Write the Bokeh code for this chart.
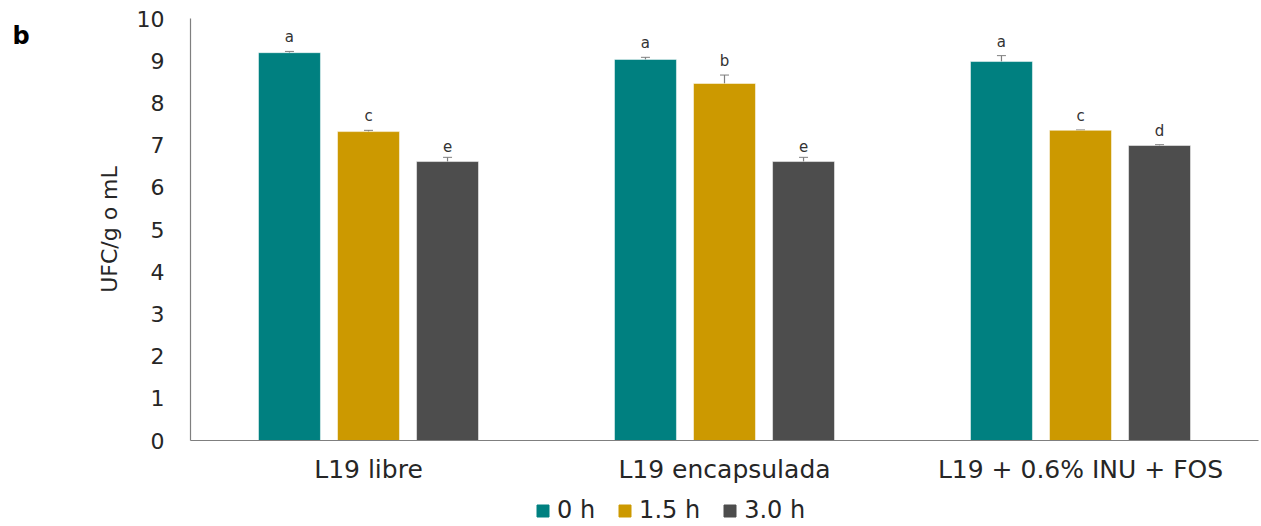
from bokeh.plotting import figure
from bokeh.models import (ColumnDataSource, Whisker, Legend, LegendItem,
                          FactorRange, Range1d)
from bokeh.layouts import row, column
from bokeh.transform import dodge
from bokeh.core.properties import value
from bokeh.embed import file_html
from bokeh.resources import INLINE

groups = ["L19 libre", "L19 encapsulada", "L19 + 0.6% INU + FOS"]
series = ["0 h", "1.5 h", "3.0 h"]
v0 = [9.19, 9.03, 8.98]
v15 = [7.32, 8.46, 7.35]
v30 = [6.61, 6.61, 6.99]
e0 = [0.03, 0.05, 0.14]
e15 = [0.03, 0.20, 0.01]
e30 = [0.10, 0.10, 0.02]
l0 = ["a", "a", "a"]
l15 = ["c", "b", "c"]
l30 = ["e", "e", "d"]
y_ticks = list(range(0, 11))
panel_tag = "b"

colors = ["#008080", "#CC9900", "#4D4D4D"]
FONT = "DejaVu Sans"
TXT = "#262626"

# ---- main chart ----
p = figure(x_range=FactorRange(*groups), y_range=Range1d(0, 10),
           width=1221, height=490, output_backend="svg", toolbar_location=None,
           min_border_left=150, min_border_right=3, min_border_top=18,
           min_border_bottom=50)
p.outline_line_color = None
p.xgrid.grid_line_color = None
p.ygrid.grid_line_color = None

offsets = [-0.222, 0.0, 0.222]
vals = [v0, v15, v30]
errs = [e0, e15, e30]
labs = [l0, l15, l30]
for i in range(3):
    src = ColumnDataSource(dict(
        g=groups, v=vals[i],
        lo=[a - b for a, b in zip(vals[i], errs[i])],
        hi=[a + b for a, b in zip(vals[i], errs[i])],
        lab=labs[i]))
    p.vbar(x=dodge("g", offsets[i], range=p.x_range), top="v", width=0.174,
           source=src, fill_color=colors[i], line_color="white", line_width=0.5)
    w = Whisker(base=dodge("g", offsets[i], range=p.x_range), lower="lo", upper="hi",
                source=src, line_color="#7f7f7f", line_width=1.2)
    w.upper_head.size = 9
    w.lower_head.size = 9
    w.upper_head.line_color = "#7f7f7f"
    w.lower_head.line_color = "#7f7f7f"
    p.add_layout(w)
    p.text(x=dodge("g", offsets[i], range=p.x_range), y="hi", text="lab", source=src,
           text_align="center", text_baseline="bottom", y_offset=-5,
           text_font=value(FONT), text_font_size="15px", text_color="#333333")

p.yaxis.ticker = y_ticks
p.yaxis.axis_label = "UFC/g o mL"
p.yaxis.axis_label_text_font = FONT
p.yaxis.axis_label_text_font_style = "normal"
p.yaxis.axis_label_text_font_size = "22px"
p.yaxis.axis_label_text_color = TXT
p.yaxis.axis_label_standoff = 12
for ax in (p.xaxis, p.yaxis):
    ax.major_label_text_font = FONT
    ax.major_label_text_color = TXT
    ax.axis_line_color = "#7f7f7f"
    ax.axis_line_width = 1.2
    ax.major_tick_line_color = None
    ax.minor_tick_line_color = None
p.yaxis.major_label_text_font_size = "22px"
p.xaxis.major_label_text_font_size = "25px"
p.yaxis.major_label_standoff = 20
p.xaxis.major_label_standoff = 8

# ---- panel tag "b" ----
tag = figure(width=40, height=490, x_range=Range1d(0, 40), y_range=Range1d(0, 490),
             output_backend="svg", toolbar_location=None, min_border=0,
             x_axis_location=None, y_axis_location=None)
tag.outline_line_color = None
tag.grid.visible = False
tag.text(x=[12], y=[470], text=[panel_tag], text_font=value(FONT),
         text_font_style="bold", text_font_size="24px", text_color="black",
         text_baseline="alphabetic")

# ---- legend strip ----
leg = figure(width=1261, height=36, x_range=Range1d(0, 1), y_range=Range1d(0, 1),
             output_backend="svg", toolbar_location=None, min_border=0,
             x_axis_location=None, y_axis_location=None)
leg.outline_line_color = None
leg.grid.visible = False
items = []
for i in range(3):
    # dummy renderer outside the visible range, only used for its legend swatch
    dummy = ColumnDataSource(dict(x=[5.0], top=[1.0]))
    r = leg.vbar(x="x", top="top", width=0.1, source=dummy,
                 fill_color=colors[i], line_color=colors[i])
    items.append(LegendItem(label=series[i], renderers=[r]))
legend = Legend(items=items, orientation="horizontal", location=(535, 2),
                label_text_font=FONT, label_text_font_size="24px",
                label_text_color=TXT, glyph_width=15, glyph_height=15,
                spacing=22, label_standoff=7, padding=0, margin=0,
                border_line_color=None, background_fill_alpha=0)
leg.add_layout(legend, "center")

layout = column(row(tag, p), leg)
open("out.html", "w").write(file_html(layout, INLINE))
